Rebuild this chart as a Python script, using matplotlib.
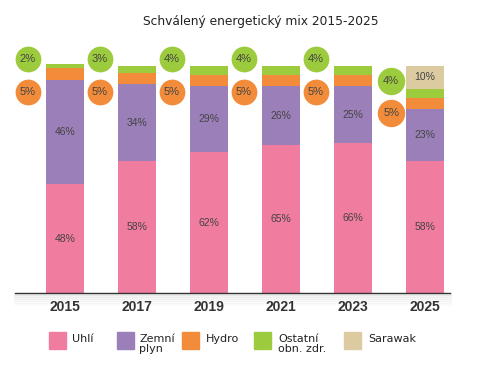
import numpy as np
import matplotlib.pyplot as plt
from matplotlib.patches import Rectangle

# Data (shares in %)
years = ['2015', '2017', '2019', '2021', '2023', '2025']
series = ['Uhlí', 'Zemní\nplyn', 'Hydro', 'Ostatní\nobn. zdr.', 'Sarawak']
uhli = [48, 58, 62, 65, 66, 58]
plyn = [46, 34, 29, 26, 25, 23]
hydro = [5, 5, 5, 5, 5, 5]
ostatni = [2, 3, 4, 4, 4, 4]
sarawak = [0, 0, 0, 0, 0, 10]

colors = ['#f07c9f', '#9b7fb9', '#f28c3a', '#9dcb3e', '#dccba1']
txt_col = '#444444'
num_font = ['Liberation Sans', 'DejaVu Sans']

fig = plt.figure(figsize=(4.8, 3.8), dpi=100)
# axes placed in pixel terms: baseline at y=293px, x span 15..450px
ax = fig.add_axes([15 / 480, 87 / 380, 435 / 480, 261 / 380])

x = np.arange(len(years))
w = 0.52
stack = [uhli, plyn, hydro, ostatni, sarawak]
bottom = np.zeros(len(years))
for i, vals in enumerate(stack):
    vals = np.array(vals, dtype=float)
    ax.bar(x, vals, w, bottom=bottom, color=colors[i], edgecolor='none', zorder=2)
    # labels inside the bigger segments
    for j, v in enumerate(vals):
        if i in (0, 1) or (i == 4 and v > 0):
            ax.text(x[j], bottom[j] + v / 2, f'{v:.0f}%', ha='center', va='center',
                    fontsize=7.5, color=txt_col, zorder=3, family=num_font)
    bottom += vals

# circle labels for hydro and other renewables, left of each bar
for j in range(len(years)):
    if sarawak[j] > 0:
        yg, yo, dx, size = 93.4, 79.5, 0.47, 390
    else:
        yg, yo, dx, size = 102.9, 88.5, 0.52, 345
    ax.scatter(x[j] - dx, yg, s=size, color=colors[3], zorder=3, linewidths=0)
    ax.scatter(x[j] - dx, yo, s=size, color=colors[2], zorder=3, linewidths=0)
    ax.text(x[j] - dx, yg, f'{ostatni[j]}%', ha='center', va='center',
            fontsize=8, color=txt_col, zorder=4, family=num_font)
    ax.text(x[j] - dx, yo, f'{hydro[j]}%', ha='center', va='center',
            fontsize=8, color=txt_col, zorder=4, family=num_font)

ax.set_xlim(-0.694, 5.347)
ax.set_ylim(0, 115)
for s in ['top', 'right', 'left']:
    ax.spines[s].set_visible(False)
ax.spines['bottom'].set_color('#333333')
ax.spines['bottom'].set_linewidth(1.0)
ax.set_yticks([])
ax.set_xticks(x)
ax.set_xticklabels(years, fontsize=10, fontweight='bold', color='#333333',
                   family=num_font)
ax.tick_params(axis='x', length=0, pad=5)

# soft shadow under the baseline
for k in range(6):
    ax.axhline(-0.5 - k * 0.9, color='#000000', alpha=0.05 - k * 0.007, lw=2,
               clip_on=False, zorder=1)

fig.text(261 / 480, 1 - 21 / 380, 'Schválený energetický mix 2015-2025',
         ha='center', va='center', fontsize=8.8, color='#222222')

# legend drawn by hand
sq_x = [49, 117, 182, 254, 344]
lab_x = [72, 139, 206, 278, 368]
for i, name in enumerate(series):
    fig.add_artist(Rectangle((sq_x[i] / 480, 1 - 349 / 380), 17 / 480, 17 / 380,
                             transform=fig.transFigure, color=colors[i]))
    fig.text(lab_x[i] / 480, 1 - 334 / 380, name, ha='left', va='top',
             fontsize=8, color='#222222', linespacing=1.0)

fig.savefig('out.png', dpi=100)
